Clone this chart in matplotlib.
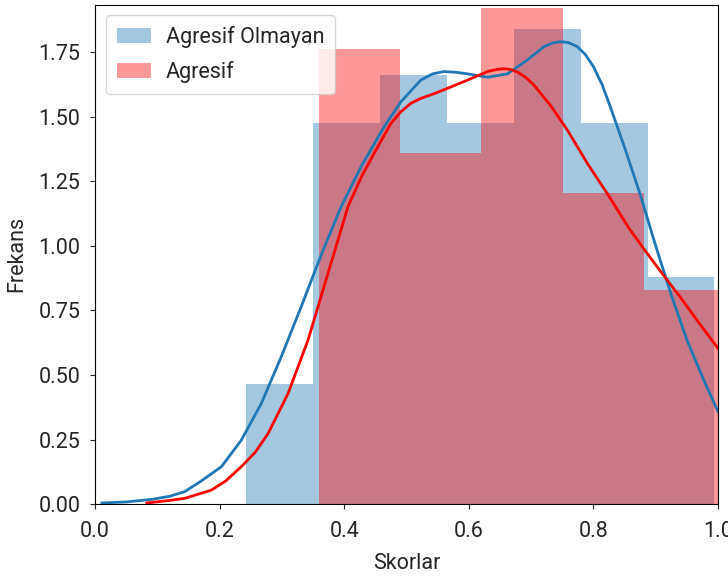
import matplotlib
matplotlib.use("Agg")
import matplotlib.pyplot as plt
import numpy as np

# --- histogram bins (density) ---
blue_edges = [0.243, 0.350, 0.458, 0.565, 0.672, 0.780, 0.887, 0.994]
blue_heights = [0.465, 1.478, 1.664, 1.478, 1.841, 1.478, 0.881]

red_edges = [0.360, 0.490, 0.620, 0.751, 0.881, 1.011]
red_heights = [1.762, 1.362, 1.921, 1.204, 0.829]

# --- KDE curves, points ---
blue_kde_x = [0.011, 0.05, 0.091, 0.120, 0.144, 0.171, 0.203, 0.235, 0.267, 0.299,
              0.331, 0.363, 0.395, 0.427, 0.464, 0.491, 0.523, 0.542, 0.560, 0.580,
              0.598, 0.630, 0.662, 0.694, 0.721, 0.735, 0.747, 0.760, 0.774, 0.787,
              0.800, 0.814, 0.827, 0.851, 0.875, 0.900, 0.925, 0.950, 0.977, 1.0]
blue_kde_y = [0.004, 0.008, 0.018, 0.030, 0.048, 0.090, 0.145, 0.248, 0.390, 0.571,
              0.765, 0.965, 1.152, 1.307, 1.462, 1.559, 1.643, 1.667, 1.676, 1.673,
              1.667, 1.654, 1.667, 1.721, 1.773, 1.787, 1.792, 1.788, 1.773, 1.742,
              1.695, 1.625, 1.540, 1.375, 1.200, 1.000, 0.810, 0.636, 0.481, 0.358]

red_kde_x = [0.083, 0.120, 0.144, 0.187, 0.210, 0.235, 0.257, 0.278, 0.310, 0.342,
             0.374, 0.406, 0.428, 0.448, 0.475, 0.491, 0.507, 0.523, 0.544, 0.570,
             0.598, 0.630, 0.645, 0.656, 0.667, 0.678, 0.691, 0.704, 0.731, 0.758,
             0.790, 0.822, 0.857, 0.886, 0.912, 0.939, 0.970, 1.0]
red_kde_y = [0.004, 0.014, 0.022, 0.054, 0.090, 0.145, 0.200, 0.274, 0.429, 0.636,
             0.894, 1.152, 1.270, 1.359, 1.475, 1.520, 1.553, 1.572, 1.590, 1.615,
             1.643, 1.676, 1.684, 1.687, 1.684, 1.674, 1.654, 1.625, 1.545, 1.450,
             1.321, 1.204, 1.069, 0.972, 0.888, 0.803, 0.700, 0.603]

plt.rcParams['font.family'] = ['Roboto', 'DejaVu Sans']
plt.rcParams['font.size'] = 15.5
plt.rcParams['text.color'] = '#262626'
plt.rcParams['axes.labelcolor'] = '#262626'
plt.rcParams['xtick.color'] = '#262626'
plt.rcParams['ytick.color'] = '#262626'

fig = plt.figure(figsize=(7.28, 5.81), dpi=100)
ax = fig.add_axes([0.1305, 0.1325, 0.8558, 0.8594])

ax.bar(blue_edges[:-1], blue_heights, width=np.diff(blue_edges), align='edge',
       color='#1f77b4', alpha=0.4, linewidth=0, label='Agresif Olmayan')
ax.bar(red_edges[:-1], red_heights, width=np.diff(red_edges), align='edge',
       color='red', alpha=0.4, linewidth=0, label='Agresif')

ax.plot(blue_kde_x, blue_kde_y, color='#1f77b4', lw=2)
ax.plot(red_kde_x, red_kde_y, color='red', lw=2)

ax.set_xlim(0, 1.0)
ax.set_ylim(0, 1.935)
ax.set_xticks([0.0, 0.2, 0.4, 0.6, 0.8, 1.0])
ax.set_yticks(np.arange(0, 1.76, 0.25))
ax.yaxis.set_major_formatter(matplotlib.ticker.FormatStrFormatter('%.2f'))
ax.xaxis.set_major_formatter(matplotlib.ticker.FormatStrFormatter('%.1f'))
ax.tick_params(axis='x', pad=9)
ax.tick_params(axis='y', pad=7)

ax.set_xlabel('Skorlar', labelpad=8)
ax.set_ylabel('Frekans', labelpad=8)
ax.legend(loc='upper left', handlelength=1.6, handletextpad=0.7, borderaxespad=0.5,
          borderpad=0.5, labelspacing=0.6)

fig.savefig('out.png', dpi=100)
